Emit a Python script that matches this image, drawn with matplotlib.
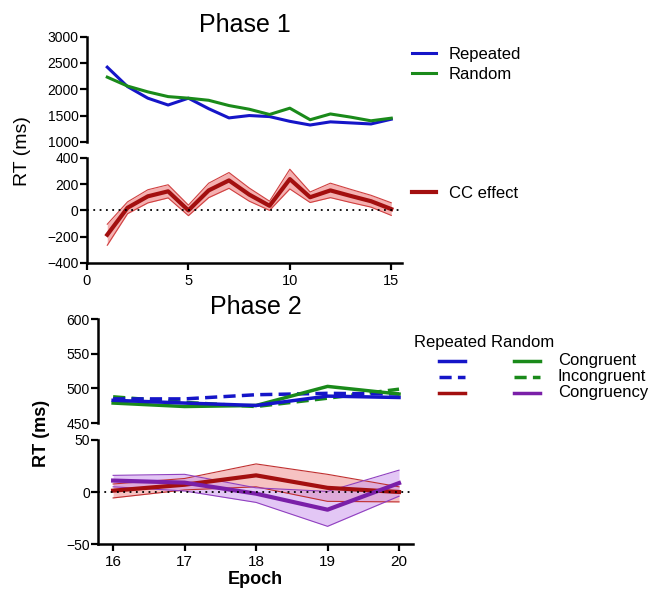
import numpy as np
import matplotlib
matplotlib.use("Agg")
import matplotlib.pyplot as plt
from matplotlib.lines import Line2D

plt.rcParams['font.family'] = ['Liberation Sans', 'DejaVu Sans']

# ---- Phase 1 data ----
epoch1 = [1, 2, 3, 4, 5, 6, 7, 8, 9, 10, 11, 12, 13, 14, 15]
repeated1 = [2420, 2050, 1830, 1700, 1830, 1630, 1455, 1500, 1480, 1390, 1320, 1380, 1360, 1340, 1430]
random1 = [2230, 2060, 1950, 1860, 1830, 1790, 1690, 1620, 1520, 1640, 1420, 1530, 1470, 1400, 1450]
cc_effect = [-185, 20, 107, 145, 0, 152, 228, 120, 35, 238, 100, 152, 110, 70, 10]
cc_sem = [80, 45, 50, 50, 40, 55, 60, 50, 35, 75, 40, 55, 50, 45, 48]

# ---- Phase 2 data ----
epoch2 = [16, 17, 18, 19, 20]
rep_cong = [483, 479, 475.5, 489, 487]
rep_incong = [485, 485, 491, 493, 492]
rand_cong = [479, 474, 475.5, 503, 492]
rand_incong = [488, 480, 474, 486, 499]
rep_effect = [1.3, 7, 16, 4, 0]
rep_lo = [-5.7, 2, 5, -9, -9.5]
rep_hi = [7.7, 13, 27, 17, 5]
rand_effect = [11, 9, -1.6, -17, 8.6]
rand_lo = [5, 1, -10, -33, -4]
rand_hi = [16, 17, 4, 0.6, 21]

blue = '#1515C8'
green = '#1A8A1A'
red = '#A30F0F'
purple = '#7A1FA8'
red_fill = '#F09090'
purple_fill = '#CC99EE'

fig = plt.figure(figsize=(6.54, 5.91), dpi=100)


def style(ax, show_x=True, xsize=10):
    ax.spines['top'].set_visible(False)
    ax.spines['right'].set_visible(False)
    ax.spines['left'].set_linewidth(1.8)
    ax.spines['bottom'].set_linewidth(1.8)
    ax.tick_params(width=1.6, length=5, labelsize=10, pad=1)
    ax.tick_params(axis='x', labelsize=xsize, pad=3)
    if not show_x:
        ax.spines['bottom'].set_visible(False)
        ax.tick_params(axis='x', bottom=False, labelbottom=False)


# Phase 1
ax1 = fig.add_axes([0.133, 0.760, 0.482, 0.178])
ax2 = fig.add_axes([0.133, 0.555, 0.482, 0.178], sharex=ax1)
ax1.plot(epoch1, repeated1, color=blue, lw=2.2, label='Repeated')
ax1.plot(epoch1, random1, color=green, lw=2.2, label='Random')
ax1.set_ylim(1000, 3000)
ax1.set_yticks(range(1000, 3001, 500))
style(ax1, show_x=False)
ax1.set_title('Phase 1', fontsize=18, pad=2)

cc = np.array(cc_effect)
se = np.array(cc_sem)
ax2.fill_between(epoch1, cc - se, cc + se, color=red_fill, alpha=0.7, lw=0)
ax2.plot(epoch1, cc - se, color='#D04040', lw=0.8)
ax2.plot(epoch1, cc + se, color='#D04040', lw=0.8)
ax2.plot(epoch1, cc, color=red, lw=3, label='CC effect')
ax2.axhline(0, color='black', ls=(0, (1, 2.5)), lw=1.3)
ax2.set_ylim(-400, 400)
ax2.set_yticks(range(-400, 401, 200))
ax2.set_xlim(0, 15.54)
ax2.set_xticks([0, 5, 10, 15])
style(ax2, xsize=10.5)

ax1.legend(loc='upper left', bbox_to_anchor=(1.0, 1.0), frameon=False, fontsize=12,
           handlelength=1.4, handletextpad=0.8, labelspacing=0.3, borderaxespad=0.2)
ax2.legend(loc='upper left', bbox_to_anchor=(1.0, 0.83), frameon=False, fontsize=12,
           handlelength=1.4, handletextpad=0.8, borderaxespad=0.2)

fig.text(0.035, 0.745, 'RT (ms)', rotation=90, fontsize=14, ha='center', va='center')

# Phase 2
ax3 = fig.add_axes([0.150, 0.284, 0.482, 0.176])
ax4 = fig.add_axes([0.150, 0.0795, 0.482, 0.176], sharex=ax3)
dash = (0, (3.5, 1.8))
ax3.plot(epoch2, rand_incong, color=green, lw=2.5, ls=dash)
ax3.plot(epoch2, rep_incong, color=blue, lw=2.5, ls=dash)
ax3.plot(epoch2, rand_cong, color=green, lw=2.5)
ax3.plot(epoch2, rep_cong, color=blue, lw=2.5)
ax3.set_ylim(450, 600)
ax3.set_yticks([450, 500, 550, 600])
style(ax3, show_x=False)
ax3.set_title('Phase 2', fontsize=18, pad=2)

ax4.fill_between(epoch2, rep_lo, rep_hi, color=red_fill, alpha=0.55, lw=0)
ax4.plot(epoch2, rep_lo, color='#C03030', lw=0.8)
ax4.plot(epoch2, rep_hi, color='#C03030', lw=0.8)
ax4.fill_between(epoch2, rand_lo, rand_hi, color=purple_fill, alpha=0.55, lw=0)
ax4.plot(epoch2, rand_lo, color='#9040C0', lw=0.8)
ax4.plot(epoch2, rand_hi, color='#9040C0', lw=0.8)
ax4.plot(epoch2, rep_effect, color=red, lw=3)
ax4.plot(epoch2, rand_effect, color=purple, lw=3)
ax4.axhline(0, color='black', ls=(0, (1, 2.5)), lw=1.3)
ax4.set_ylim(-50, 50)
ax4.set_yticks([-50, 0, 50])
ax4.set_xlim(15.79, 20.2)
ax4.set_xticks(epoch2)
style(ax4, xsize=11)
ax4.set_xlabel('Epoch', fontsize=13, fontweight='bold', labelpad=1)

fig.text(0.064, 0.267, 'RT (ms)', rotation=90, fontsize=13, fontweight='bold',
         ha='center', va='center')

# Phase 2 legend (two handle columns)
fig.text(0.633, 0.420, 'Repeated Random', fontsize=12, va='center', ha='left')
rows = [('Congruent', blue, green, '-'), ('Incongruent', blue, green, dash),
        ('Congruency', red, purple, '-')]
for i, (name, c1, c2, ls) in enumerate(rows):
    yy = 1 - (361 + 16 * i) / 591
    fig.add_artist(Line2D([0.671, 0.711], [yy, yy], color=c1, lw=2.5, ls=ls,
                          transform=fig.transFigure))
    fig.add_artist(Line2D([0.786, 0.825], [yy, yy], color=c2, lw=2.5, ls=ls,
                          transform=fig.transFigure))
    fig.text(0.853, yy, name, fontsize=12, va='center', ha='left')

fig.savefig('out.png', dpi=100)
